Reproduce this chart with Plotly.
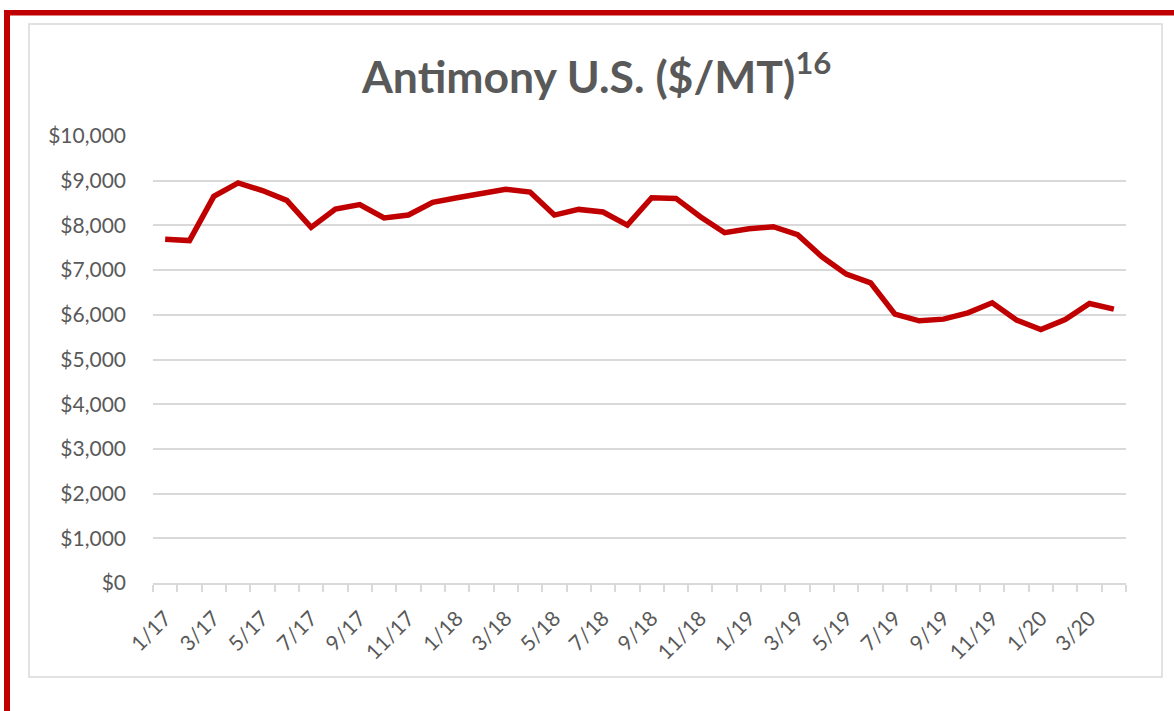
import plotly.graph_objects as go

months = ["1/17", "2/17", "3/17", "4/17", "5/17", "6/17", "7/17", "8/17", "9/17", "10/17",
          "11/17", "12/17", "1/18", "2/18", "3/18", "4/18", "5/18", "6/18", "7/18", "8/18",
          "9/18", "10/18", "11/18", "12/18", "1/19", "2/19", "3/19", "4/19", "5/19", "6/19",
          "7/19", "8/19", "9/19", "10/19", "11/19", "12/19", "1/20", "2/20", "3/20", "4/20"]
prices = [7690, 7660, 8650, 8950, 8780, 8560, 7955, 8365, 8465, 8165,
          8232, 8515, 8620, 8700, 8810, 8745, 8231, 8358, 8299, 8007,
          8619, 8604, 8194, 7836, 7925, 7970, 7791, 7299, 6910, 6716,
          6015, 5866, 5903, 6045, 6269, 5881, 5672, 5896, 6254, 6127]
y_ticks = [0, 1000, 2000, 3000, 4000, 5000, 6000, 7000, 8000, 9000, 10000]
y_labels = ["$" + format(v, ",") for v in y_ticks]

W, H = 1174, 711
L, R, T, B = 153, 48, 136, 128
PW, PH = W - L - R, H - T - B


def px(x):
    return (x - L) / PW


def py(y):
    return (H - B - y) / PH


idx = list(range(len(months)))
TEXT = "#595959"
GRID = "#d9d9d9"
FONT = "Lato"

fig = go.Figure()
fig.add_trace(go.Scatter(x=idx, y=prices, mode="lines",
                         line=dict(color="#C00000", width=5.5),
                         hoverinfo="skip", showlegend=False))

fig.update_layout(
    width=W, height=H,
    margin=dict(l=L, r=R, t=T, b=B, pad=0),
    paper_bgcolor="white", plot_bgcolor="white",
    font=dict(family=FONT, color=TEXT),
    showlegend=False,
    xaxis=dict(
        range=[-0.5, len(months) - 0.5],
        tickmode="array", tickvals=idx[::2], ticktext=months[::2],
        tickangle=-45, ticks="", showgrid=False, zeroline=False,
        showline=True, linecolor=GRID, linewidth=1.5,
        tickfont=dict(size=21, color=TEXT, family=FONT),
        ticklabelstandoff=13,
        minor=dict(tick0=-0.5, dtick=1, ticks="outside", ticklen=7,
                   tickcolor=GRID, tickwidth=1.5, showgrid=False),
    ),
    yaxis=dict(
        range=[0, 10000], tickmode="array", tickvals=y_ticks, ticktext=y_labels,
        showgrid=True, gridcolor=GRID, gridwidth=1.5,
        zeroline=False, showline=False, ticks="",
        tickfont=dict(size=21, color=TEXT, family=FONT),
        ticklabelstandoff=26,
    ),
    shapes=[
        dict(type="rect", xref="paper", yref="paper",
             x0=px(29), x1=px(1162), y0=py(677), y1=py(24),
             line=dict(color=GRID, width=1.5), fillcolor="rgba(0,0,0,0)", layer="below"),
        dict(type="rect", xref="paper", yref="paper",
             x0=px(4), x1=px(10), y0=py(720), y1=py(10),
             line=dict(width=0), fillcolor="#C00000", layer="above"),
        dict(type="rect", xref="paper", yref="paper",
             x0=px(4), x1=px(1180), y0=py(15.5), y1=py(10),
             line=dict(width=0), fillcolor="#C00000", layer="above"),
    ],
    annotations=[
        dict(text="<b>Antimony U.S. ($/MT)<sup>16</sup></b>",
             xref="paper", yref="paper", x=px(596), y=py(72),
             xanchor="center", yanchor="middle", showarrow=False,
             font=dict(size=44.5, color=TEXT, family=FONT)),
    ],
)

fig.write_html("out.html", config={"displayModeBar": False},
               post_script="document.body.style.margin='0';")
